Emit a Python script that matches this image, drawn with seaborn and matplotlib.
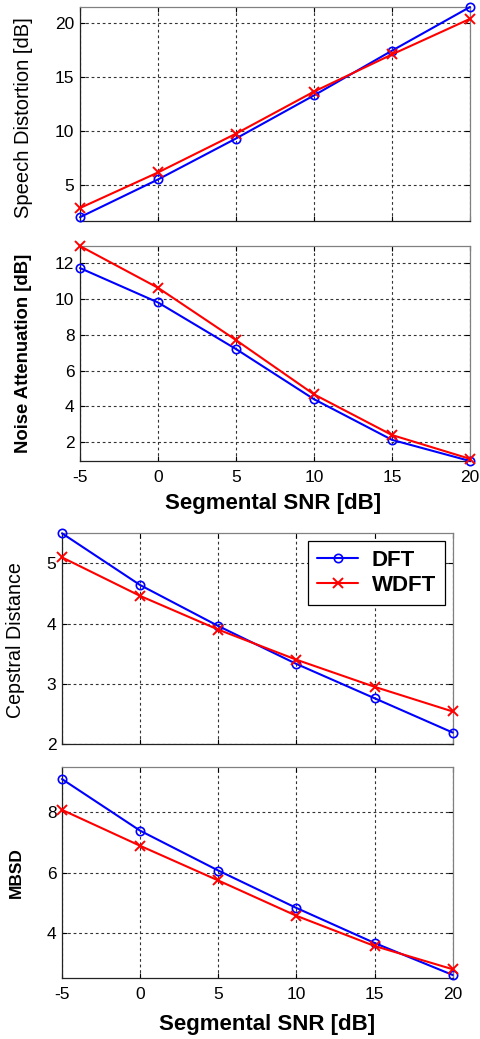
import matplotlib
matplotlib.use("Agg")
import matplotlib.pyplot as plt
import seaborn as sns
import pandas as pd

# ---- data ----
snr = [-5, 0, 5, 10, 15, 20]
sd_dft = [2.0, 5.5, 9.3, 13.3, 17.45, 21.5]
sd_wdft = [2.85, 6.15, 9.75, 13.65, 17.1, 20.4]
na_dft = [11.72, 9.8, 7.2, 4.4, 2.13, 0.95]
na_wdft = [12.95, 10.62, 7.7, 4.67, 2.4, 1.07]
cd_dft = [5.5, 4.64, 3.96, 3.33, 2.76, 2.19]
cd_wdft = [5.1, 4.46, 3.9, 3.4, 2.95, 2.54]
mbsd_dft = [9.1, 7.39, 6.07, 4.83, 3.67, 2.61]
mbsd_wdft = [8.08, 6.89, 5.74, 4.57, 3.57, 2.8]

series_names = ["DFT", "WDFT"]
xlabel_text = "Segmental SNR [dB]"
xticks = [-5, 0, 5, 10, 15, 20]

sns.set_theme(style="white")
plt.rcParams['font.family'] = ['Liberation Sans', 'DejaVu Sans']
plt.rcParams['text.color'] = 'black'
plt.rcParams['axes.labelcolor'] = 'black'
plt.rcParams['xtick.color'] = 'black'
plt.rcParams['ytick.color'] = 'black'

W, H = 481, 1039
fig = plt.figure(figsize=(W / 100, H / 100), dpi=100)


def box(l, r, t, b):
    return [l / W, 1 - b / H, (r - l) / W, (b - t) / H]


panels = [
    dict(rect=box(80, 470, 7, 221.5), dft=sd_dft, wdft=sd_wdft, ylim=(1.6, 21.5),
         yticks=[5, 10, 15, 20], ylabel="Speech Distortion [dB]", ybold=False,
         ylab_x=-0.145, ylab_y=0.483, ylab_fs=14.5, xlab=False),
    dict(rect=box(80, 470, 245.5, 461), dft=na_dft, wdft=na_wdft, ylim=(0.95, 12.98),
         yticks=[2, 4, 6, 8, 10, 12], ylabel="Noise Attenuation [dB]", ybold=True,
         ylab_x=-0.1436, ylab_y=0.5, ylab_fs=13.3, xlab=True, xlab_x=0.495, xlab_y=-0.147),
    dict(rect=box(62, 452.7, 533.3, 744), dft=cd_dft, wdft=cd_wdft, ylim=(2.0, 5.5),
         yticks=[2, 3, 4, 5], ylabel="Cepstral Distance", ybold=False,
         ylab_x=-0.120, ylab_y=0.491, ylab_fs=14.1, xlab=False, legend=True),
    dict(rect=box(62, 452.7, 767, 978.3), dft=mbsd_dft, wdft=mbsd_wdft, ylim=(2.5, 9.5),
         yticks=[4, 6, 8], ylabel="MBSD", ybold=True,
         ylab_x=-0.116, ylab_y=0.5, ylab_fs=12.5, xlab=True, xlab_x=0.526, xlab_y=-0.171),
]

for p in panels:
    ax = fig.add_axes(p["rect"])
    df = pd.DataFrame({"snr": snr, "DFT": p["dft"], "WDFT": p["wdft"]})
    sns.lineplot(data=df, x="snr", y="DFT", ax=ax, color="#0000ff", lw=1.5,
                 marker="o", markersize=6, markerfacecolor="none",
                 markeredgecolor="#0000ff", markeredgewidth=1.2,
                 label=series_names[0], clip_on=False, zorder=3)
    sns.lineplot(data=df, x="snr", y="WDFT", ax=ax, color="#ff0000", lw=1.5,
                 marker="x", markersize=7, markeredgecolor="#ff0000",
                 markeredgewidth=1.4, label=series_names[1], clip_on=False, zorder=3)
    ax.set_xlim(-5, 20)
    ax.set_ylim(*p["ylim"])
    ax.set_xticks(xticks)
    ax.set_yticks(p["yticks"])
    ax.grid(True, color="#333333", linestyle=(0, (2.5, 2.5)), linewidth=0.8)
    ax.tick_params(direction="in", length=3.5, width=0.8, top=True, right=True,
                   bottom=True, left=True, labelsize=12.5, colors="black")
    ax.tick_params(axis="x", pad=6.5)
    ax.tick_params(axis="y", pad=4)
    for side, sp in ax.spines.items():
        sp.set_visible(True)
        sp.set_linewidth(0.9)
        sp.set_color("#222222" if side in ("left", "bottom") else "#808080")
    if p["xlab"]:
        ax.set_xticklabels([str(v) for v in xticks])
        ax.set_xlabel(xlabel_text, fontsize=16, fontweight="bold", va="top")
        ax.xaxis.set_label_coords(p["xlab_x"], p["xlab_y"])
    else:
        ax.set_xticklabels([])
        ax.set_xlabel("")
    ax.set_ylabel(p["ylabel"], fontsize=p["ylab_fs"],
                  fontweight="bold" if p["ybold"] else "normal", va="center")
    ax.yaxis.set_label_coords(p["ylab_x"], p["ylab_y"])
    if p.get("legend"):
        leg = ax.legend(loc="upper right", bbox_to_anchor=(0.98, 0.965),
                        borderaxespad=0, fancybox=False, framealpha=1,
                        edgecolor="black", prop={"size": 16, "weight": "bold"},
                        handlelength=1.85, handletextpad=0.6, labelspacing=0.2,
                        borderpad=0.4)
        leg.get_frame().set_linewidth(0.9)
        leg.set_zorder(5)
    else:
        lg = ax.get_legend()
        if lg is not None:
            lg.remove()

fig.savefig("out.png", dpi=100)
